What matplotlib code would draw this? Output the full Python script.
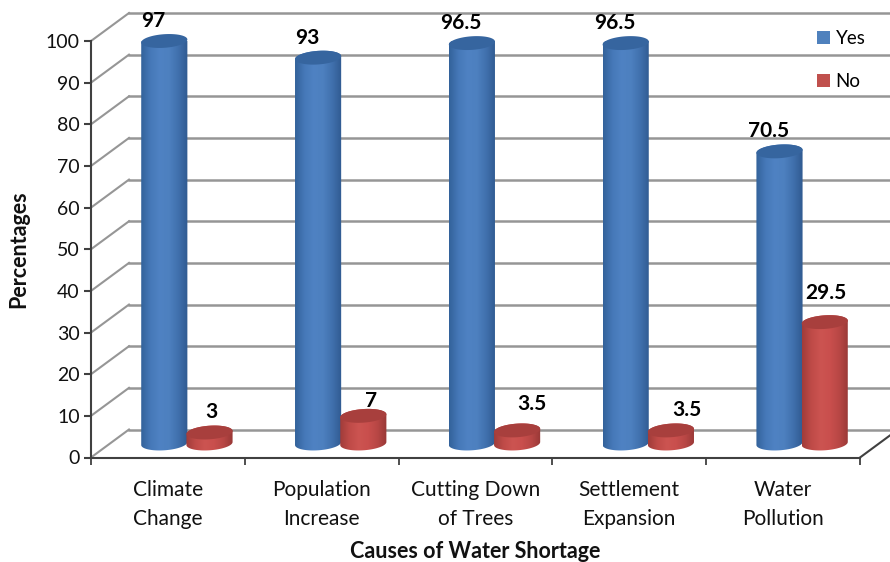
import numpy as np
import matplotlib
matplotlib.use('Agg')
import matplotlib.pyplot as plt
from matplotlib.colors import LinearSegmentedColormap
from matplotlib.patches import Patch, Polygon

plt.rcParams['font.family'] = ['Lato', 'DejaVu Sans']

categories = ['Climate\nChange', 'Population\nIncrease', 'Cutting Down\nof Trees',
              'Settlement\nExpansion', 'Water\nPollution']
yes_values = [97, 93, 96.5, 96.5, 70.5]
no_values = [3, 7, 3.5, 3.5, 29.5]
yes_labels = ['97', '93', '96.5', '96.5', '70.5']
no_labels = ['3', '7', '3.5', '3.5', '29.5']
y_ticks = list(range(0, 101, 10))

# hand placed data labels, pixels from the top of each cylinder
yes_offsets = [(-11, 18), (-11, 18), (-11, 19), (-11, 19), (-11, 19)]
no_offsets = [(2, 19), (8, 13), (15, 25), (16, 19), (1, 28)]

W, H = 890, 562
fig = plt.figure(figsize=(W / 100, H / 100), dpi=100)
ax = fig.add_axes([91 / W, (H - 457.5) / H, 769 / W, 416.5 / H])
ax.set_xlim(0, 5)
ax.set_ylim(0, 100)

# fake depth of the excel 3d chart, in data units
depth_x = 38 / 153.8
depth_y = 28 / 4.165
bar_w = 0.3
ry = 6.8 * 100 / 416.5
tilt = 1.5 * 100 / 416.5
drop = 1.5 * 100 / 416.5

grid_col = '#969696'
for v in y_ticks:
    ax.plot([0, depth_x], [v, v + depth_y], color=grid_col, lw=1.5, clip_on=False, zorder=1)
    ax.plot([depth_x, 5 + depth_x], [v + depth_y, v + depth_y], color=grid_col, lw=1.8,
            clip_on=False, zorder=1)
ax.plot([5, 5 + depth_x], [0, depth_y], color='#404040', lw=1.5, clip_on=False, zorder=1)

yes_cmap = LinearSegmentedColormap.from_list('yes', ['#33629a', '#4678b8', '#4f82c3', '#4d80bf',
                                                    '#4070ad', '#305a90'])
no_cmap = LinearSegmentedColormap.from_list('no', ['#a03c3a', '#bf4b48', '#cc5451', '#c94f4d',
                                                  '#b84745', '#983836'])
grad = np.linspace(0, 1, 128).reshape(1, -1)


def cylinder(cx, val, cmap, top_col, z):
    top = val + depth_y / 2 - drop
    base = depth_y / 2
    t = np.linspace(0, np.pi, 60)
    # front half of the base, then back over the top rim
    xb = cx - bar_w / 2 * np.cos(t)
    yb = base - ry * np.sin(t) - tilt * np.cos(t)
    xt = cx + bar_w / 2 * np.cos(t)
    yt = top + ry * np.sin(t) + tilt * np.cos(t)
    body = Polygon(np.r_[np.c_[xb, yb], np.c_[xt, yt]], closed=True,
                   transform=ax.transData, fc='none', ec='none')
    ax.add_patch(body)
    im = ax.imshow(grad, cmap=cmap, aspect='auto', zorder=z,
                   extent=[cx - bar_w / 2, cx + bar_w / 2, base - ry - 1, top + ry + 1])
    im.set_clip_path(body)
    t2 = np.linspace(0, 2 * np.pi, 100)
    ax.fill(cx + bar_w / 2 * np.cos(t2), top + ry * np.sin(t2) + tilt * np.cos(t2),
            color=top_col, lw=0, zorder=z + 0.1, clip_on=False)


for i in range(5):
    mid = i + 0.5 + depth_x / 2
    cx_yes = mid - 0.147
    cx_no = mid + 0.147
    cylinder(cx_yes, yes_values[i], yes_cmap, '#36659f', 3 + i)
    cylinder(cx_no, no_values[i], no_cmap, '#a83f3d', 3.5 + i)
    ax.annotate(yes_labels[i], (cx_yes, yes_values[i] + depth_y / 2), xytext=yes_offsets[i],
                textcoords='offset pixels', ha='center', va='center', fontsize=15,
                fontweight='bold', color='black', zorder=20, annotation_clip=False)
    ax.annotate(no_labels[i], (cx_no, no_values[i] + depth_y / 2), xytext=no_offsets[i],
                textcoords='offset pixels', ha='center', va='center', fontsize=15,
                fontweight='bold', color='black', zorder=20, annotation_clip=False)

ax.set_xlim(0, 5)
ax.set_ylim(0, 100)
ax.patch.set_visible(False)

for s in ['top', 'right']:
    ax.spines[s].set_visible(False)
for s in ['left', 'bottom']:
    ax.spines[s].set_color('#404040')
    ax.spines[s].set_linewidth(1.5)
    ax.spines[s].set_zorder(2)

ax.set_yticks(y_ticks)
ax.tick_params(axis='y', direction='out', length=5, width=1.5, color='#404040',
               labelsize=14, labelcolor='#111111', pad=3)
ax.set_xticks(range(6))
ax.set_xticklabels([])
ax.tick_params(axis='x', which='major', direction='out', length=5, width=1.3, color='#404040')
ax.set_xticks(np.arange(5) + 0.5, minor=True)
ax.set_xticklabels(categories, minor=True, fontsize=15, color='#111111', linespacing=1.6)
ax.tick_params(axis='x', which='minor', length=0, pad=16)

ax.set_ylabel('Percentages', fontsize=15.5, fontweight='bold', color='#111111', labelpad=0)
ax.yaxis.set_label_coords(-72 / 769, 0.5)
ax.set_xlabel('Causes of Water Shortage', fontsize=15.5, fontweight='bold', color='#111111')
ax.xaxis.set_label_coords((475 - 91) / 769, -(551 - 457.5) / 416.5)
ax.xaxis.label.set_verticalalignment('center')
ax.yaxis.label.set_verticalalignment('center')

handles = [Patch(fc='#4f81bd', ec='none', label='Yes'), Patch(fc='#c0504d', ec='none', label='No')]
ax.legend(handles=handles, loc='upper left', bbox_to_anchor=(813 / W, (H - 26) / H),
          bbox_transform=fig.transFigure, frameon=False, fontsize=13.5, handlelength=0.7,
          handleheight=0.7, handletextpad=0.3, labelspacing=1.42, borderpad=0.2, borderaxespad=0)

fig.savefig('out.png', dpi=100)
